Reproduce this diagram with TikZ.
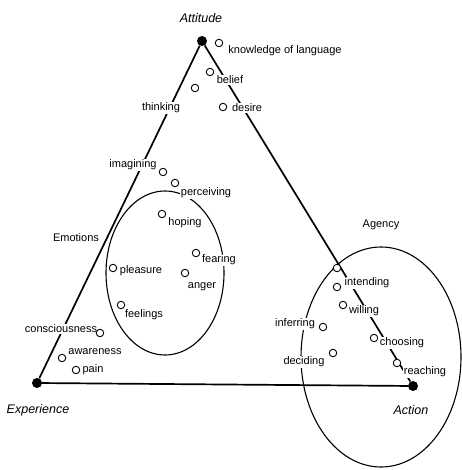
\documentclass[tikz,border=0pt]{standalone}
\usepackage{fontspec}
\setmainfont{Liberation Sans}
\usetikzlibrary{shapes}
\tikzset{
  pole/.style={circle, fill=black, inner sep=0pt, minimum size=10pt},
  poletext/.style={font=\fontsize{12.5}{14}\selectfont\itshape},
  concept/.style={circle, draw, fill=white, line width=0.9pt, inner sep=0pt, minimum size=7.5pt},
  conceptlabel/.style={fill=white, inner sep=1pt, font=\fontsize{11}{13}\selectfont},
  side/.style={line width=1.7pt},
  region/.style={line width=1.1pt}
}
\newcommand{\cmpconcept}[2] {\node at (#1) (#2) [concept] {};}
\newcommand{\cmplabel}[3] {\node at (#1) (#2) [conceptlabel] {#3};}
\newcommand{\cmpside}[2] {\draw [side] (#1) -- (#2);}

\begin{document}
\begin{tikzpicture}[x=1pt, y=-1pt]
\useasboundingbox (0,0) rectangle (461,470);

% the three poles
\node at (202,41)  (attitude)   [pole] {};
\node at (37,383)  (experience) [pole] {};
\node at (413,386) (action)     [pole] {};
\node at (201,18)  (attitudetext)   [poletext] {Attitude};
\node at (38,410)  (experiencetext) [poletext] {Experience};
\node at (411,410) (actiontext)     [poletext] {Action};

\cmpside {attitude}{experience}
\cmpside {attitude}{action}
\cmpside {experience}{action}

% the two regions
\draw [region] (165,273) ellipse [x radius=59, y radius=82];
\draw [region] (381,357) ellipse [x radius=80, y radius=110];

% labels
\cmplabel {285,51}{knowledgetext}{knowledge of language}
\cmplabel {230,80}{belieftext}{belief}
\cmplabel {247,108}{desiretext}{desire}
\cmplabel {161,108}{thinkingtext}{thinking}
\cmplabel {133,165}{imaginingtext}{imagining}
\cmplabel {206,193}{perceivingtext}{perceiving}
\cmplabel {76,238}{emotionstext}{Emotions}
\cmplabel {185,223}{hopingtext}{hoping}
\cmplabel {219,260}{fearingtext}{fearing}
\cmplabel {202,287}{angertext}{anger}
\cmplabel {141,271}{pleasuretext}{pleasure}
\cmplabel {144,315}{feelingstext}{feelings}
\cmplabel {61,329}{consciousnesstext}{consciousness}
\cmplabel {95,352}{awarenesstext}{awareness}
\cmplabel {93,370}{paintext}{pain}
\cmplabel {381,225}{agencytext}{Agency}
\cmplabel {367,283}{intendingtext}{intending}
\cmplabel {364,311}{willingtext}{willing}
\cmplabel {295,324}{inferringtext}{inferring}
\cmplabel {402,343}{choosingtext}{choosing}
\cmplabel {304,362}{decidingtext}{deciding}
\cmplabel {425,372}{reachingtext}{reaching}

% concepts
\cmpconcept {219,43}{knowledge}
\cmpconcept {210,72}{belief}
\cmpconcept {195,88}{attitudeinner}
\cmpconcept {223,107}{desire}
\cmpconcept {163,172}{imagining}
\cmpconcept {175,183}{perceiving}
\cmpconcept {162,214}{hoping}
\cmpconcept {196,253}{fearing}
\cmpconcept {185,273}{anger}
\cmpconcept {113,268}{pleasure}
\cmpconcept {121,305}{feelings}
\cmpconcept {100,333}{consciousness}
\cmpconcept {62,358}{awareness}
\cmpconcept {76,370}{pain}
\cmpconcept {337,268}{agencyedge}
\cmpconcept {337,287}{intending}
\cmpconcept {343,305}{willing}
\cmpconcept {323,327}{inferring}
\cmpconcept {374,338}{choosing}
\cmpconcept {333,353}{deciding}
\cmpconcept {397,363}{reaching}

\end{tikzpicture}
\end{document}
